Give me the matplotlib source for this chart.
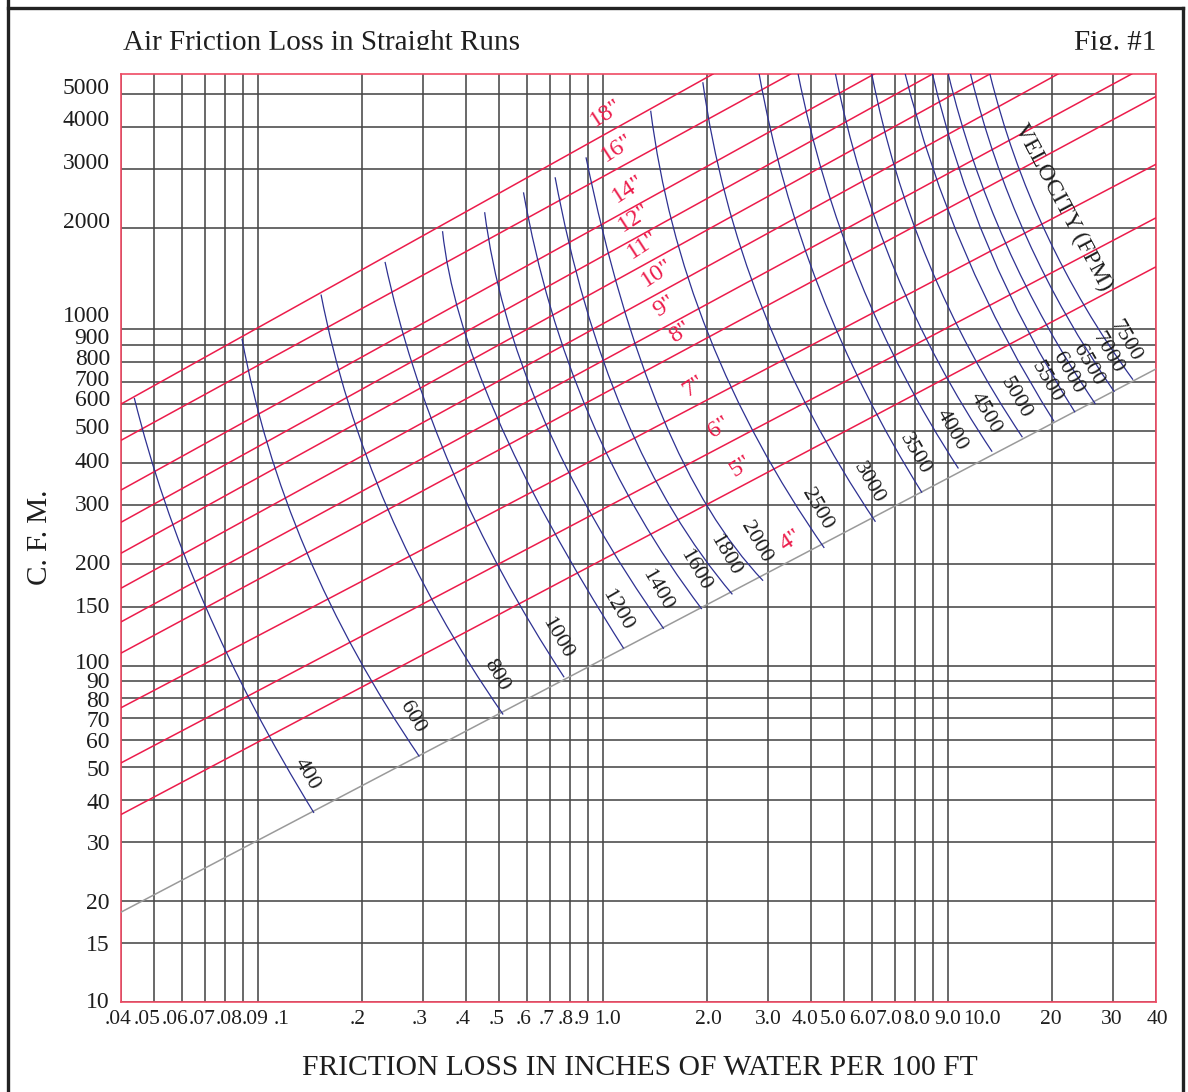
import numpy as np
import matplotlib.pyplot as plt
from matplotlib.path import Path
from matplotlib.patches import PathPatch, Rectangle
from matplotlib.lines import Line2D
from matplotlib.ticker import NullLocator
from matplotlib.transforms import ScaledTranslation

plt.rcParams['font.family'] = 'Liberation Serif'

# friction loss grid (inches of water per 100 ft)
friction_ticks = [0.04, 0.05, 0.06, 0.07, 0.08, 0.09, 0.1, 0.2, 0.3, 0.4, 0.5, 0.6, 0.7, 0.8, 0.9,
                  1.0, 2.0, 3.0, 4.0, 5.0, 6.0, 7.0, 8.0, 9.0, 10.0, 20, 30, 40]
friction_labels = ['.04', '.05', '.06', '.07', '.08', '.09', '.1', '.2', '.3', '.4', '.5', '.6', '.7',
                   '.8', '.9', '1.0', '2.0', '3.0', '4.0', '5.0', '6.0', '7.0', '8.0', '9.0', '10.0',
                   '20', '30', '40']
# air flow grid (CFM)
cfm_ticks = [10, 15, 20, 30, 40, 50, 60, 70, 80, 90, 100, 150, 200, 300, 400, 500,
             600, 700, 800, 900, 1000, 2000, 3000, 4000, 5000]
cfm_top = 5750

# round duct lines (start and end)
duct_sizes = ['18"', '16"', '14"', '12"', '11"', '10"', '9"', '8"', '7"', '6"', '5"', '4"']
duct_fl_start = [0.04, 0.04, 0.04, 0.04, 0.04, 0.04, 0.04, 0.04, 0.04, 0.04, 0.04, 0.04]
duct_cfm_start = [600, 468, 333, 267, 216, 170, 135, 109, 75, 51.4, 36.1, 18.5]
duct_fl_end = [2.08, 3.49, 6.1, 9.0, 13.2, 20.8, 34.0, 40, 40, 40, 40, 40]
duct_cfm_end = [5750, 5750, 5750, 5750, 5750, 5750, 5750, 4930, 3100, 2148, 1536, 763]
duct_label_fl = [1.07, 1.15, 1.24, 1.29, 1.36, 1.50, 1.58, 1.75, 1.92, 2.27, 2.62, 3.67]

# velocity curves (FPM): upper end, a middle point, lower end
velocities = [400, 600, 800, 1000, 1200, 1400, 1600, 1800, 2000, 2500,
              3000, 3500, 4000, 4500, 5000, 5500, 6000, 6500, 7000, 7500]
vel_top_fl = [0.0437, 0.0897, 0.152, 0.233, 0.342, 0.453, 0.587, 0.725, 0.891, 1.372,
              1.943, 2.83, 3.67, 4.71, 6.0, 7.5, 9.0, 10.0, 11.6, 13.2]
vel_top_cfm = [626, 938, 1270, 1588, 1960, 2232, 2557, 2835, 3250, 4472,
               5435, 5750, 5750, 5750, 5750, 5750, 5750, 5750, 5750, 5750]
vel_mid_fl = [0.0699, 0.1377, 0.2374, 0.365, 0.489, 0.664, 0.91, 1.151, 1.477, 2.02,
              2.885, 4.24, 5.53, 7.01, 8.77, 11.2, 13.1, 14.7, 16.9, 19.2]
vel_mid_cfm = [152, 219, 292, 380, 556, 556, 556, 556, 556, 963,
               1163, 1314, 1406, 1494, 1578, 1688, 1747, 1795, 1869, 1934]
vel_bot_fl = [0.145, 0.293, 0.5125, 0.77, 1.146, 1.497, 1.93, 2.367, 2.905, 4.37,
              6.15, 8.39, 10.7, 13.4, 16.4, 20.25, 23.3, 26.7, 30.3, 34.3]
vel_bot_cfm = [36.5, 53.7, 71.6, 92.4, 112.5, 128.8, 147.4, 163, 179, 224,
               268, 327, 386, 433, 478, 533, 567, 600, 652, 709]

RED = '#ec1c4b'
BLUE = '#2e3192'
GRID = '#474747'
INK = '#1e1e1e'

fig = plt.figure(figsize=(11.88, 10.92), dpi=100)
ax = fig.add_axes([121 / 1188, 1 - 1002 / 1092, 1035 / 1188, 928 / 1092])
ax.set_xscale('log')
ax.set_yscale('log')
ax.set_xlim(0.04, 40)
ax.set_ylim(10, cfm_top)
ax.set_xticks(friction_ticks, labels=friction_labels)
ax.set_yticks(cfm_ticks, labels=[str(v) for v in cfm_ticks])
ax.xaxis.set_minor_locator(NullLocator())
ax.yaxis.set_minor_locator(NullLocator())
ax.tick_params(length=0, labelsize=17, colors=INK)
ax.tick_params(axis='x', pad=6, labelsize=15.5)
ax.tick_params(axis='y', pad=8)

# the printed scales set crowded labels as running text, not centred on their lines
x_label_shift = [-3, -7, -7, -3, 4, 13, 23, -5, -3, -3, -3, -3, -3, -4, -6, 4,
                 1, 0, -6, -11, -9, -6, 2, 15, 34, -1, -1, 1]
y_label_lift = [2.5, 0, 0, -0.5, -1.5, -1, 0, -0.7, -0.7, 1.1, 4.7, 1.5, 2.5, 2, 3, 4.5,
                6, 4, 5, 9, 15, 8, 8, 8.5, 8]
for lab, dx in zip(ax.get_xticklabels(), x_label_shift):
    lab.set_transform(lab.get_transform() + ScaledTranslation(dx / 100, 0, fig.dpi_scale_trans))
for lab, dy in zip(ax.get_yticklabels(), y_label_lift):
    lab.set_transform(lab.get_transform() + ScaledTranslation(0, dy / 100, fig.dpi_scale_trans))

ax.grid(True, color=GRID, lw=1.15)
ax.set_axisbelow(True)
for s in ax.spines.values():
    s.set_color('#ef4a64')
    s.set_linewidth(1.2)

# duct size lines
for i, size in enumerate(duct_sizes):
    xs = [duct_fl_start[i], duct_fl_end[i]]
    ys = [duct_cfm_start[i], duct_cfm_end[i]]
    color = '#9a9a9a' if size == '4"' else RED
    ax.plot(xs, ys, color=color, lw=1.1, zorder=3)
    lx = duct_label_fl[i]
    ly = 10 ** np.interp(np.log10(lx), np.log10(xs), np.log10(ys))
    ax.annotate(size, (lx, ly), xytext=(-5, 12), textcoords='offset points',
                ha='center', va='center', rotation=33, fontsize=17.5, color=RED, zorder=5)

# velocity curves: quadratic bezier through the three read points (in log space)
for i, v in enumerate(velocities):
    p0 = np.log10([vel_top_fl[i], vel_top_cfm[i]])
    pm = np.log10([vel_mid_fl[i], vel_mid_cfm[i]])
    p2 = np.log10([vel_bot_fl[i], vel_bot_cfm[i]])
    c = 2 * pm - (p0 + p2) / 2
    verts = 10 ** np.array([p0, c, p2])
    path = Path(verts, [Path.MOVETO, Path.CURVE3, Path.CURVE3])
    ax.add_patch(PathPatch(path, fill=False, ec=BLUE, lw=0.9, zorder=4))
    ax.annotate(str(v), (vel_bot_fl[i], vel_bot_cfm[i]), xytext=(-5, 28),
                textcoords='offset points', ha='center', va='center',
                rotation=-60, fontsize=16, color=INK, zorder=5)

ax.text(21.5, 2306, 'VELOCITY (FPM)', rotation=-62,
        ha='center', va='center', fontsize=17, color=INK, zorder=5)

# titles and axis names
fig.text(123 / 1188, 1 - 50 / 1092, 'Air Friction Loss in Straight Runs',
         ha='left', va='baseline', fontsize=21, color=INK)
fig.text(1156 / 1188, 1 - 50 / 1092, 'Fig. #1', ha='right', va='baseline',
         fontsize=21, color=INK)
fig.patches.append(Rectangle((100 / 1188, 1 - 70 / 1092), 1070 / 1188, 20 / 1092,
                             transform=fig.transFigure, color='white', zorder=10))
fig.text(640 / 1188, 1 - 1075 / 1092, 'FRICTION LOSS IN INCHES OF WATER PER 100 FT',
         ha='center', va='baseline', fontsize=21.3, color=INK)
fig.text(40 / 1188, 1 - 537 / 1092, 'C. F. M.', rotation=90, ha='center', va='center',
         fontsize=21, color=INK)

# outer frame
for xs, ys in [([8, 8], [0, 1092]), ([8, 1183], [8, 8]), ([1183, 1183], [8, 1092])]:
    fig.add_artist(Line2D([x / 1188 for x in xs], [1 - y / 1092 for y in ys],
                          transform=fig.transFigure, color='#222222', lw=2.4))

fig.savefig('out.png', dpi=100)
